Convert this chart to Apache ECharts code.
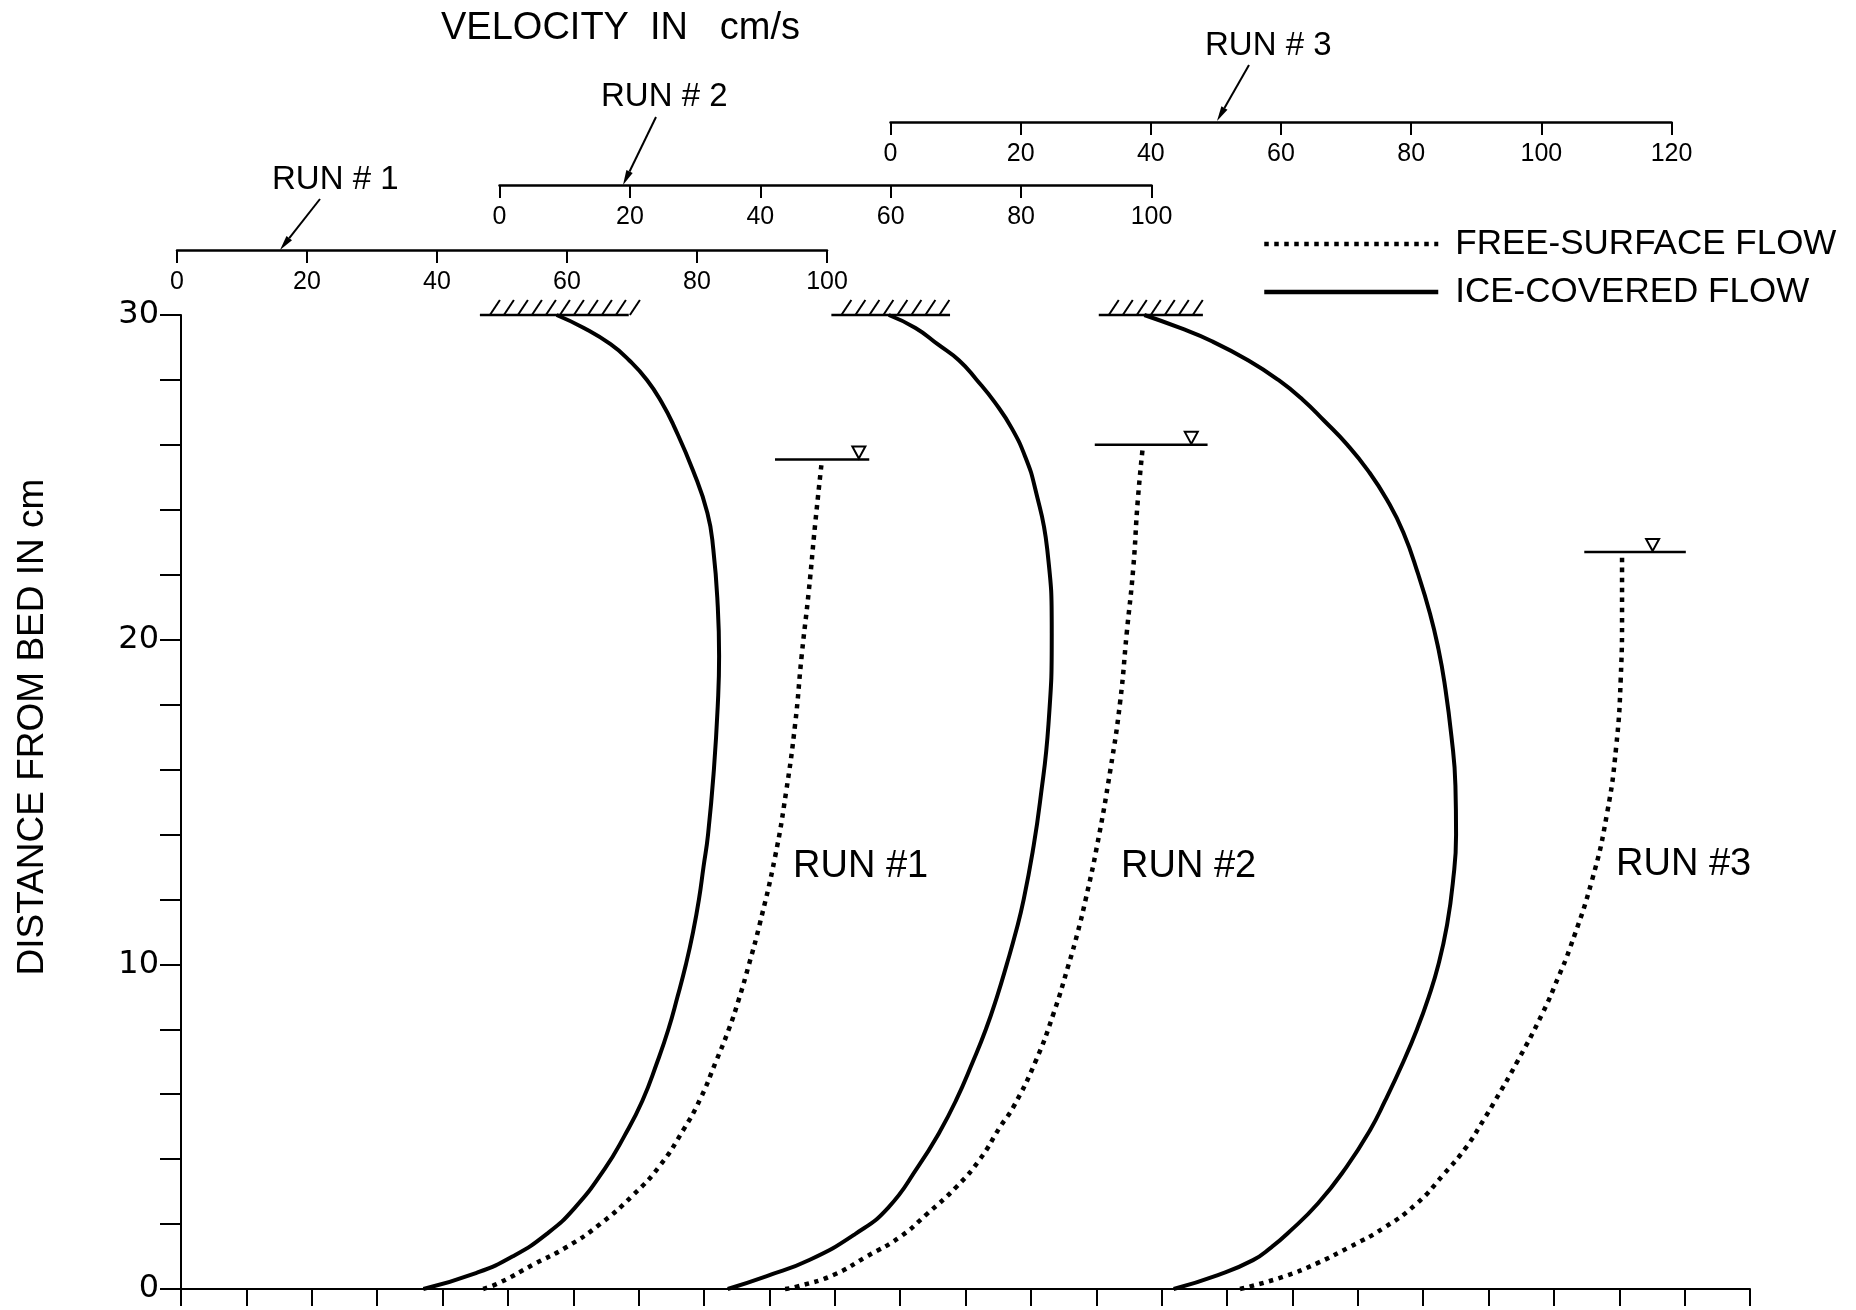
<!DOCTYPE html>
<html>
<head>
<meta charset="utf-8">
<script src="https://cdn.jsdelivr.net/npm/echarts/dist/echarts.min.js"></script>
<style>
  html, body { margin: 0; padding: 0; background: #fff; }
  #chart { width: 1856px; height: 1310px; }
</style>
</head>
<body>
<div id="chart"></div>
<script>
// Velocity profiles: [velocity in cm/s, distance from bed in cm]
const run1Ice = [[37.9,0],[46.1,0.5],[51.6,1.0],[56.9,1.7],[61.2,2.5],[65.8,3.7],[68.8,4.7],[71.6,5.8],[73.9,7.0],[75.6,8.0],[77.0,9.0],[78.3,10.0],[79.4,11.0],[80.3,12.0],[81.0,13.0],[81.7,14.0],[82.6,16.0],[83.2,18.0],[83.4,19.5],[83.2,21.0],[82.5,22.8],[81.6,23.9],[79.4,25.2],[76.4,26.6],[74.6,27.3],[72.3,28.0],[69.6,28.6],[66.7,29.1],[62.6,29.6],[58.4,30]];
const run1Free = [[47.1,0],[49.7,0.2],[54.8,0.75],[60.0,1.3],[65.1,2.0],[70.2,2.9],[74.3,3.8],[77.9,4.9],[80.5,5.85],[82.9,7.0],[84.9,8.0],[86.4,8.9],[88.0,10.0],[89.6,11.2],[92.0,13.3],[93.7,15.3],[95.1,17.4],[96.1,19.5],[97.2,21.5],[98.2,23.6],[99.2,25.5]];
const run2Ice = [[35.0,0],[41.0,0.4],[47.6,0.9],[54.6,1.7],[59.6,2.5],[64.3,3.8],[67.4,4.8],[70.0,5.8],[72.6,7.0],[74.6,8.0],[76.3,9.0],[77.8,10.0],[79.2,11.0],[80.4,12.0],[81.8,13.5],[82.9,15.0],[84.2,17.4],[84.7,20.2],[84.0,22.8],[82.1,24.7],[80.7,25.6],[78.6,26.5],[76.0,27.3],[73.2,28.0],[70.5,28.6],[67.2,29.1],[63.8,29.6],[59.7,30]];
const run2Free = [[43.8,0],[45.6,0.07],[51.2,0.43],[56.3,1.0],[61.4,1.6],[65.5,2.3],[70.1,3.15],[73.7,4.0],[76.8,5.0],[78.8,5.6],[82.2,7.0],[85.0,8.5],[87.3,10.0],[88.7,11.0],[89.9,12.0],[91.6,13.6],[93.7,16.0],[95.2,18.1],[96.2,20.2],[97.2,22.2],[97.9,24.3],[98.7,26.0]];
const run3Ice = [[43.5,0],[50.3,0.43],[55.7,0.89],[58.6,1.3],[61.0,1.71],[65.7,2.64],[70.1,3.77],[73.7,4.9],[76.0,5.8],[78.8,7.0],[80.9,8.0],[82.7,9.0],[84.2,10.0],[85.5,11.2],[86.4,12.5],[86.9,14.0],[86.8,15.5],[86.2,17.0],[85.1,18.7],[84.2,19.7],[82.9,20.8],[81.1,22.0],[78.8,23.3],[76.3,24.3],[73.4,25.2],[70.2,26.0],[66.6,26.75],[63.3,27.4],[59.6,28.0],[55.0,28.6],[49.3,29.2],[44.5,29.6],[39.0,30]];
const run3Free = [[53.7,0],[60.4,0.38],[65.5,0.79],[70.6,1.3],[75.7,1.87],[80.9,2.64],[84.9,3.51],[88.5,4.38],[91.1,5.2],[92.9,5.8],[96.3,7.0],[100.2,8.5],[102.6,9.6],[104.4,10.5],[107.8,12.6],[110.1,14.65],[111.5,16.7],[112.2,18.8],[112.4,20.8],[112.4,22.7]];

// Ice cover at the top of the flume: [from velocity, to velocity, depth]
const run1Cover = [46.6, 69.5, 30];
const run2Cover = [50.9, 69.1, 30];
const run3Cover = [32.0, 48.0, 30];

// Free water surface: [from velocity, to velocity, depth, surface symbol velocity]
const run1Surface = [92.0, 106.5, 25.55, 104.9];
const run2Surface = [91.3, 108.6, 26.0, 106.1];
const run3Surface = [106.6, 122.2, 22.7, 117.1];

// Axis ranges
const depthRange = [0, 30];
const run1Velocity = [0, 100];
const run2Velocity = [0, 100];
const run3Velocity = [0, 120];
const baseVelocity = [0, 240];

const FREE = 'FREE-SURFACE FLOW';
const ICE = 'ICE-COVERED FLOW';
const SANS = '"Liberation Sans", Arial, Helvetica, sans-serif';

const chart = echarts.init(document.getElementById('chart'), null, { renderer: 'canvas' });

const gridTop = 315, gridHeight = 974;

function runXAxis(gridIndex, range, offset) {
  return {
    type: 'value', gridIndex, position: 'top', offset,
    min: range[0], max: range[1], interval: 20,
    axisLine: { show: true, onZero: false, lineStyle: { color: '#000', width: 2.5 } },
    axisTick: { show: true, inside: true, length: 13, lineStyle: { color: '#000', width: 2 } },
    axisLabel: { show: true, inside: true, margin: 20, color: '#000', fontSize: 25, fontFamily: SANS },
    splitLine: { show: false }
  };
}
function hiddenYAxis(gridIndex) {
  return { type: 'value', gridIndex, min: depthRange[0], max: depthRange[1], show: false, splitLine: { show: false } };
}

function profile(name, data, idx, dotted) {
  return {
    type: 'line', name, data, xAxisIndex: idx, yAxisIndex: idx,
    symbol: 'none', smooth: 0.5, clip: false, color: '#000',
    lineStyle: dotted
      ? { color: '#000', width: 4.5, type: [4.5, 5.5], cap: 'butt' }
      : { color: '#000', width: 4 }
  };
}

// Hatched ice cover drawn at the cover's velocity extent
function cover(data, idx) {
  return {
    type: 'custom', name: 'ice cover ' + idx, xAxisIndex: idx, yAxisIndex: idx,
    data: [data], encode: { x: [0, 1], y: 2 }, silent: true, clip: false,
    renderItem(params, api) {
      const a = api.coord([api.value(0), api.value(2)]);
      const b = api.coord([api.value(1), api.value(2)]);
      const children = [{
        type: 'line', shape: { x1: a[0], y1: a[1], x2: b[0], y2: b[1] },
        style: { stroke: '#000', lineWidth: 2.5 }
      }];
      for (let x = a[0] + 10; x <= b[0] + 2; x += 14) {
        children.push({
          type: 'line', shape: { x1: x, y1: a[1], x2: x + 10, y2: a[1] - 15 },
          style: { stroke: '#000', lineWidth: 2 }
        });
      }
      return { type: 'group', children };
    }
  };
}

// Water surface line with the inverted-triangle surface symbol
function surface(data, idx) {
  return {
    type: 'custom', name: 'water surface ' + idx, xAxisIndex: idx, yAxisIndex: idx,
    data: [data], encode: { x: [0, 1, 3], y: 2 }, silent: true, clip: false,
    renderItem(params, api) {
      const a = api.coord([api.value(0), api.value(2)]);
      const b = api.coord([api.value(1), api.value(2)]);
      const m = api.coord([api.value(3), api.value(2)]);
      return {
        type: 'group',
        children: [
          { type: 'line', shape: { x1: a[0], y1: a[1], x2: b[0], y2: b[1] }, style: { stroke: '#000', lineWidth: 2.5 } },
          { type: 'polygon', shape: { points: [[m[0], m[1] - 1], [m[0] - 6.5, m[1] - 13], [m[0] + 6.5, m[1] - 13]] },
            style: { fill: '#fff', stroke: '#000', lineWidth: 2 } }
        ]
      };
    }
  };
}

function arrow(tail, tip) {
  const dx = tip[0] - tail[0], dy = tip[1] - tail[1];
  const len = Math.hypot(dx, dy), ux = dx / len, uy = dy / len;
  const bx = tip[0] - ux * 15, by = tip[1] - uy * 15;
  const px = -uy * 3.5, py = ux * 3.5;
  return [
    { type: 'line', shape: { x1: tail[0], y1: tail[1], x2: bx, y2: by }, style: { stroke: '#000', lineWidth: 2 } },
    { type: 'polygon', shape: { points: [[tip[0], tip[1]], [bx + px, by + py], [bx - px, by - py]] }, style: { fill: '#000' } }
  ];
}
function label(text, x, y, size) {
  return { type: 'text', x, y, style: { text, fill: '#000', font: size + 'px ' + SANS, align: 'left', verticalAlign: 'middle' } };
}

const option = {
  animation: false,
  backgroundColor: '#fff',
  grid: [
    { left: 181, top: gridTop, width: 1569, height: gridHeight },
    { left: 177, top: gridTop, width: 650, height: gridHeight },
    { left: 499.5, top: gridTop, width: 652, height: gridHeight },
    { left: 890.5, top: gridTop, width: 781, height: gridHeight }
  ],
  xAxis: [
    {
      type: 'value', gridIndex: 0, min: baseVelocity[0], max: baseVelocity[1], interval: 10,
      axisLine: { show: true, onZero: false, lineStyle: { color: '#000', width: 2 } },
      axisTick: { show: true, length: 17, lineStyle: { color: '#000', width: 2 } },
      axisLabel: { show: false }, splitLine: { show: false }
    },
    runXAxis(1, run1Velocity, 65),
    runXAxis(2, run2Velocity, 130),
    runXAxis(3, run3Velocity, 193)
  ],
  yAxis: [
    {
      type: 'value', gridIndex: 0, min: depthRange[0], max: depthRange[1], interval: 2,
      axisLine: { show: true, onZero: false, lineStyle: { color: '#000', width: 2 } },
      axisTick: { show: true, length: 21, lineStyle: { color: '#000', width: 2 } },
      axisLabel: {
        margin: 22, color: '#000', fontSize: 32, fontFamily: '"DejaVu Sans", sans-serif',
        formatter: v => (v % 10 === 0 ? String(v) : '')
      },
      splitLine: { show: false }
    },
    hiddenYAxis(1), hiddenYAxis(2), hiddenYAxis(3)
  ],
  legend: {
    data: [FREE, ICE], orient: 'vertical', left: 1257, top: 218,
    itemWidth: 174, itemHeight: 14, itemGap: 6, selectedMode: false,
    itemStyle: { color: 'rgba(0,0,0,0)', borderWidth: 0 },
    lineStyle: { width: 4.5 },
    textStyle: { color: '#000', fontSize: 35, fontFamily: SANS, lineHeight: 42, padding: [0, 0, 0, 12] }
  },
  series: [
    profile(ICE, run1Ice, 1, false), profile(FREE, run1Free, 1, true),
    profile(ICE, run2Ice, 2, false), profile(FREE, run2Free, 2, true),
    profile(ICE, run3Ice, 3, false), profile(FREE, run3Free, 3, true),
    cover(run1Cover, 1), cover(run2Cover, 2), cover(run3Cover, 3),
    surface(run1Surface, 1), surface(run2Surface, 2), surface(run3Surface, 3)
  ],
  graphic: [
    label('VELOCITY  IN   cm/s', 441, 29, 38),
    label('RUN # 1', 272, 180, 33),
    label('RUN # 2', 601, 97, 33),
    label('RUN # 3', 1205, 46, 33),
    label('RUN #1', 793, 867, 38),
    label('RUN #2', 1121, 867, 38),
    label('RUN #3', 1616, 865, 38),
    { type: 'text', x: 33, y: 727, rotation: Math.PI / 2,
      style: { text: 'DISTANCE FROM BED IN cm', fill: '#000', font: '37px ' + SANS, align: 'center', verticalAlign: 'middle' } },
    ...arrow([320, 199], [280, 250]),
    ...arrow([656, 117], [623, 185]),
    ...arrow([1249, 65], [1217, 121])
  ]
};

chart.setOption(option);
</script>
</body>
</html>
